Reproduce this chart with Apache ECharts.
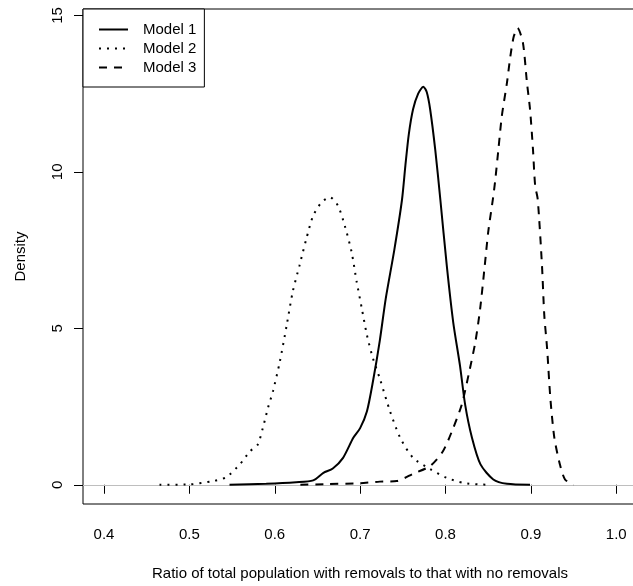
<!DOCTYPE html>
<html><head><meta charset="utf-8">
<script src="https://cdn.jsdelivr.net/npm/echarts@6/dist/echarts.min.js"></script>
<style>html,body{margin:0;padding:0;background:#fff;overflow:hidden;width:633px;height:586px}#c{width:641px;height:586px}</style>
</head><body><div id="c"></div>
<script>
const xTicks = [0.4, 0.5, 0.6, 0.7, 0.8, 0.9, 1.0];
const yTicks = [0, 5, 10, 15];
const seriesNames = ['Model 1', 'Model 2', 'Model 3'];

const m1x = [0.547,0.59,0.625,0.645,0.657,0.668,0.680,0.692,0.700,0.708,0.715,0.723,0.730,0.740,0.749,0.753,0.757,0.762,0.768,0.774,0.778,0.782,0.788,0.794,0.8015,0.809,0.817,0.823,0.831,0.841,0.856,0.872,0.899];
const m1y = [0,0.03,0.08,0.14,0.38,0.52,0.86,1.5,1.81,2.35,3.3,4.6,5.95,7.5,9.1,10.2,11.2,12.0,12.5,12.72,12.55,12.0,10.7,9.1,7.0,5.2,3.8,2.56,1.5,0.65,0.17,0.03,0];

const m2x = [0.465,0.5,0.528,0.543,0.559,0.571,0.580,0.586,0.592,0.598,0.606,0.614,0.621,0.629,0.637,0.645,0.655,0.6646,0.674,0.682,0.690,0.696,0.702,0.708,0.715,0.723,0.735,0.747,0.762,0.782,0.8015,0.821,0.84,0.85];
const m2y = [0,0.01,0.12,0.24,0.65,1.07,1.28,1.81,2.45,3.0,3.94,5.1,6.16,7.01,7.86,8.6,9.03,9.19,8.92,8.28,7.44,6.48,5.63,4.78,4.04,3.4,2.35,1.5,0.86,0.5,0.22,0.06,0.01,0];

const m3x = [0.63,0.66,0.70,0.723,0.743,0.762,0.782,0.797,0.809,0.819,0.827,0.835,0.8406,0.846,0.850,0.8555,0.858,0.862,0.866,0.872,0.876,0.880,0.8844,0.8907,0.8954,0.899,0.9025,0.905,0.908,0.913,0.9157,0.919,0.9228,0.9275,0.934,0.940,0.950];
const m3y = [0,0.02,0.05,0.1,0.12,0.35,0.6,1.07,1.81,2.56,3.51,4.57,5.63,7.01,8.07,9.13,9.67,10.73,11.79,12.85,13.7,14.33,14.6,14.12,12.85,12.0,10.7,9.56,9.13,7.01,5.42,4.36,2.77,1.5,0.65,0.17,0.0];

const pair = (xs, ys) => xs.map((x, i) => [x, ys[i]]);
const styles = [
  {type: 'solid', width: 2},
  {type: [2, 6], width: 2},
  {type: [8, 7], width: 2}
];
const datasets = [pair(m1x, m1y), pair(m2x, m2y), pair(m3x, m3y)];

const chart = echarts.init(document.getElementById('c'), null, {renderer: 'canvas'});
const font = 'Liberation Sans, Arial, sans-serif';
chart.setOption({
  animation: false,
  backgroundColor: '#fff',
  textStyle: {fontFamily: font, color: '#000'},
  grid: {left: 83, top: 9, right: 4, bottom: 80, show: true, borderColor: '#000', borderWidth: 1, backgroundColor: 'transparent'},
  legend: {
    orient: 'vertical', left: 83, top: 9,
    data: seriesNames,
    borderColor: '#000', borderWidth: 1, borderRadius: 0,
    padding: [13, 8, 12, 15],
    itemWidth: 29, itemHeight: 14, itemGap: 4,
    itemStyle: {opacity: 0},
    textStyle: {fontSize: 15, color: '#000', fontFamily: font, padding: [0, 0, 0, 10]},
    backgroundColor: '#fff'
  },
  xAxis: {
    type: 'value', min: 0.3754, max: 1.0243,
    name: 'Ratio of total population with removals to that with no removals',
    nameLocation: 'middle', nameGap: 62,
    nameTextStyle: {fontSize: 15, color: '#000', fontFamily: font},
    axisLine: {show: false},
    axisTick: {show: true, inside: false, length: 9, customValues: xTicks, lineStyle: {color: '#000'}},
    axisLabel: {customValues: xTicks, fontSize: 15, color: '#000', margin: 23, formatter: v => v.toFixed(1)},
    splitLine: {show: false}
  },
  yAxis: {
    type: 'value', min: -0.615, max: 15.204,
    name: 'Density', nameLocation: 'middle', nameGap: 55, nameRotate: 90,
    nameTextStyle: {fontSize: 15, color: '#000', fontFamily: font},
    axisLine: {show: false},
    axisTick: {show: true, inside: false, length: 9, customValues: yTicks, lineStyle: {color: '#000'}},
    axisLabel: {customValues: yTicks, fontSize: 15, color: '#000', rotate: 90, margin: 18, formatter: v => String(v)},
    splitLine: {show: false}
  },
  series: seriesNames.map((n, i) => ({
    name: n, type: 'line', data: datasets[i], showSymbol: false, symbol: 'none',
    smooth: 0.25, color: '#000',
    lineStyle: {color: '#000', width: styles[i].width, type: styles[i].type},
    z: 3,
    markLine: i === 0 ? {
      silent: true, symbol: 'none', label: {show: false},
      lineStyle: {color: '#bebebe', width: 1, type: 'solid'},
      data: [{yAxis: 0}], z: 1
    } : undefined
  }))
});
</script></body></html>
